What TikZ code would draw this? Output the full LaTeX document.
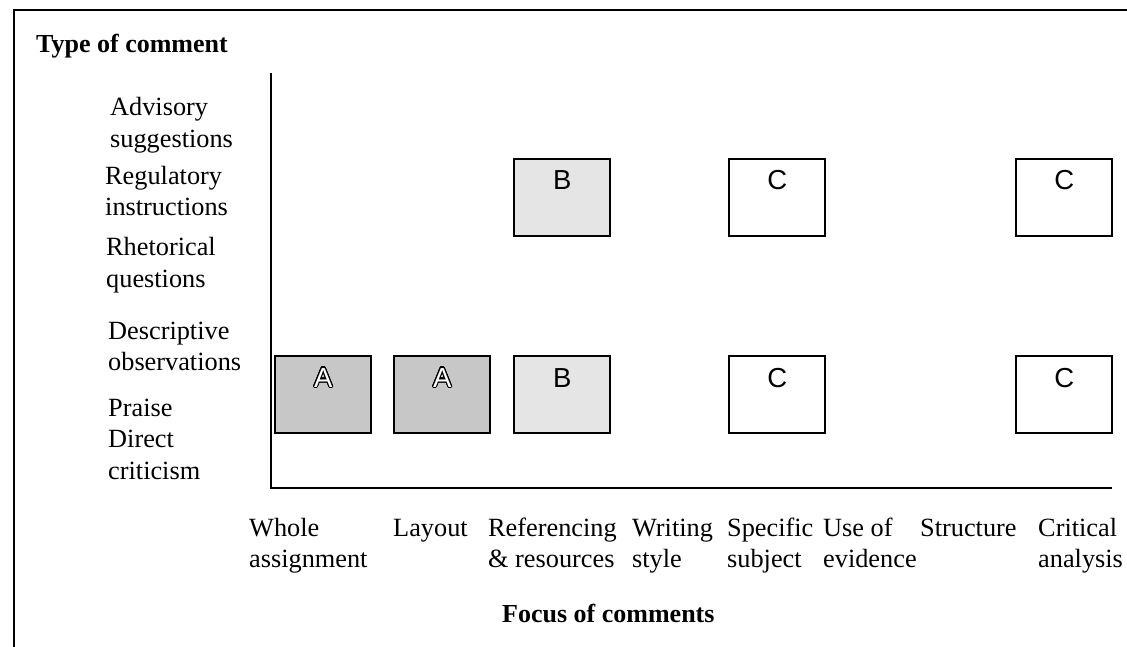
\documentclass[tikz,border=0pt]{standalone}
\usepackage{fontspec}
\setmainfont{Liberation Serif}
\newfontfamily\letterfont{Liberation Sans}
\usepackage{contour}
\contourlength{1.1pt}
\begin{document}
\begin{tikzpicture}[x=1pt,y=-1pt,
  lbl/.style={anchor=base west,inner sep=0pt,font=\fontsize{26.3}{32}\selectfont},
  ttl/.style={anchor=base west,inner sep=0pt,font=\fontsize{26}{32}\selectfont\bfseries},
  cell/.style={draw=black,line width=2.4pt,minimum width=96pt,minimum height=77pt,inner sep=0pt,anchor=north west},
  shadeA/.style={cell,fill=black!22},
  shadeB/.style={cell,fill=black!10},
  plain/.style={cell,fill=white},
  tag/.style={anchor=base,inner sep=0pt,font=\letterfont\fontsize{27.5}{30}\selectfont},
  axis/.style={line width=2pt},
  frame/.style={line width=1.8pt}]
\useasboundingbox (0,0) rectangle (1127,647);

% outer frame (left and top edges)
\coordinate (fbl) at (14,647);
\coordinate (ftl) at (14,10);
\coordinate (ftr) at (1127,10);
\draw[frame] (fbl) -- (ftl) -- (ftr);

% axes
\coordinate (ytop) at (271,73);
\coordinate (orig) at (271,488);
\coordinate (xend) at (1112,488);
\draw[axis] (ytop) -- (orig) -- (xend);

% titles
\node[ttl] (ytitle) at (36,53) {Type of comment};
\node[ttl] (xtitle) at (502,622) {Focus of comments};

% comment types
\node[lbl] (t1a) at (110,116) {Advisory};
\node[lbl] (t1b) at (110,148) {suggestions};
\node[lbl] (t2a) at (105,185) {Regulatory};
\node[lbl] (t2b) at (105,216) {instructions};
\node[lbl] (t3a) at (106,255) {Rhetorical};
\node[lbl] (t3b) at (106,287) {questions};
\node[lbl] (t4a) at (108,339) {Descriptive};
\node[lbl] (t4b) at (108,370) {observations};
\node[lbl] (t5)  at (108,416) {Praise};
\node[lbl] (t6a) at (108,447) {Direct};
\node[lbl] (t6b) at (108,479) {criticism};

% focus areas
\node[lbl] (f1a) at (249,536) {Whole};
\node[lbl] (f1b) at (249,567) {assignment};
\node[lbl] (f2)  at (393,536) {Layout};
\node[lbl] (f3a) at (488,536) {Referencing};
\node[lbl] (f3b) at (488,567) {\& resources};
\node[lbl] (f4a) at (632,536) {Writing};
\node[lbl] (f4b) at (632,567) {style};
\node[lbl] (f5a) at (727,536) {Specific};
\node[lbl] (f5b) at (727,567) {subject};
\node[lbl] (f6a) at (823,536) {Use of};
\node[lbl] (f6b) at (823,567) {evidence};
\node[lbl] (f7)  at (920,536) {Structure};
\node[lbl] (f8a) at (1038,536) {Critical};
\node[lbl] (f8b) at (1038,567) {analysis};

% cells, upper row
\node[shadeB] (bu)  at (513,158) {};
\node[plain]  (cu1) at (728,158) {};
\node[plain]  (cu2) at (1015,158) {};
% cells, lower row
\node[shadeA] (a1)  at (274,355) {};
\node[shadeA] (a2)  at (393,355) {};
\node[shadeB] (bl)  at (513,355) {};
\node[plain]  (cl1) at (728,355) {};
\node[plain]  (cl2) at (1015,355) {};

% cell letters
\foreach \c in {a1,a2}
  \node[tag] (\c-t) at ([yshift=-32pt]\c.north) {\color{white}\contour{black}{A}};
\foreach \c in {bu,bl}
  \node[tag] (\c-t) at ([yshift=-32pt]\c.north) {B};
\foreach \c in {cu1,cu2,cl1,cl2}
  \node[tag] (\c-t) at ([yshift=-32pt]\c.north) {C};
\end{tikzpicture}
\end{document}
